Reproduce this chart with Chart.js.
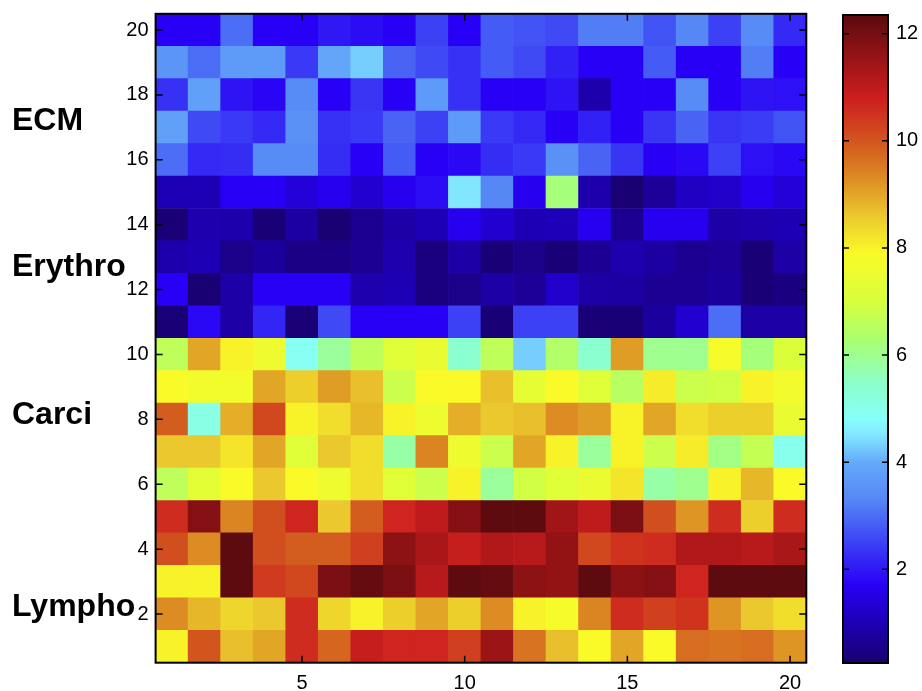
<!DOCTYPE html>
<html>
<head>
<meta charset="utf-8">
<script src="https://cdn.jsdelivr.net/npm/chart.js@4/dist/chart.umd.min.js"></script>
<style>
  html, body { margin: 0; padding: 0; background: #ffffff; }
  #wrap { position: relative; width: 922px; height: 691px; }
  #main { position: absolute; left: 0; top: 0; }
  #cbar { position: absolute; left: 800px; top: 0; }
</style>
</head>
<body>
<div id="wrap">
  <canvas id="main" width="922" height="691"></canvas>
  <canvas id="cbar" width="122" height="691"></canvas>
</div>
<script>
// ---------------- DATA ----------------
const columns = [1,2,3,4,5,6,7,8,9,10,11,12,13,14,15,16,17,18,19,20];
const rowPositions = [1,2,3,4,5,6,7,8,9,10,11,12,13,14,15,16,17,18,19,20];

// Lympho (rows 1-5)
const row1  = [8.0,10.0,8.7,9.0,10.6,9.8,10.9,10.7,10.7,10.3,11.5,9.6,8.7,7.9,9.0,7.9,9.7,9.6,9.7,9.2];
const row2  = [9.3,8.8,8.4,8.6,10.6,8.4,8.0,8.5,9.0,8.5,9.3,8.0,7.8,9.4,10.6,10.3,10.5,9.2,8.6,8.3];
const row3  = [8.0,8.0,12.3,10.4,10.2,11.9,12.2,11.9,11.1,12.3,12.2,11.7,11.6,12.3,11.7,11.8,10.7,12.3,12.3,12.3];
const row4  = [10.1,9.3,12.3,10.1,9.9,9.9,10.3,11.7,11.3,10.9,11.2,11.1,11.6,10.2,10.5,10.6,11.2,11.2,11.1,11.3];
const row5  = [10.6,11.8,9.4,10.1,10.7,8.6,9.9,10.7,11.0,11.8,12.3,12.3,11.4,11.0,11.9,10.1,9.2,10.6,8.5,10.6];
// Carci (rows 6-10)
const row6  = [6.6,7.3,7.9,8.6,7.9,7.6,8.3,7.2,6.8,8.0,5.9,6.9,7.2,7.5,8.2,5.8,6.0,8.0,8.8,7.9];
const row7  = [8.6,8.6,8.2,9.0,7.2,8.6,8.3,5.8,9.4,7.6,6.8,9.0,8.0,5.9,8.0,6.8,8.1,6.1,6.7,5.0];
const row8  = [9.9,5.1,8.9,10.2,8.0,8.3,8.8,8.0,7.6,8.9,8.6,8.7,9.3,9.1,8.0,9.0,8.3,8.5,8.5,7.5];
const row9  = [7.9,7.7,7.7,9.0,8.5,9.1,8.7,6.8,7.9,7.9,8.7,7.4,7.9,7.2,6.5,8.1,6.8,6.9,8.0,7.7];
const row10 = [6.6,9.0,8.0,7.6,4.9,5.9,6.6,7.2,7.5,5.4,6.6,4.3,6.4,5.4,9.1,6.0,6.0,7.8,6.2,7.1];
// Erythro (rows 11-15)
const row11 = [0.35,1.8,0.85,2.15,0.35,2.6,1.7,1.7,1.7,2.5,0.35,2.5,2.5,0.35,0.35,0.75,1.3,3.0,0.85,0.85];
const row12 = [1.7,0.3,0.85,1.7,1.7,1.7,0.95,1.0,0.4,0.55,0.85,0.7,1.25,0.85,0.8,0.65,0.65,0.75,0.35,0.45];
const row13 = [0.9,1.0,0.55,0.75,0.5,0.5,0.65,0.95,0.4,0.85,0.35,0.55,0.35,0.65,0.95,0.8,0.6,0.7,0.35,0.85];
const row14 = [0.35,0.95,0.9,0.35,0.8,0.3,0.6,0.85,1.0,1.65,1.3,1.0,1.05,1.65,0.6,1.65,1.65,0.85,0.95,1.0];
const row15 = [1.0,1.0,1.7,1.7,1.4,1.65,1.3,1.65,1.85,4.5,3.3,1.65,6.2,0.9,0.3,0.7,1.15,1.25,1.65,1.4];
// ECM (rows 16-20)
const row16 = [3.0,2.2,2.25,3.4,3.4,2.25,1.7,2.8,1.7,1.8,2.25,2.4,3.5,2.9,2.35,1.7,1.8,2.5,1.9,1.8];
const row17 = [3.8,2.6,2.4,2.2,3.5,2.3,2.4,2.9,2.5,3.7,2.4,2.2,1.7,2.1,1.7,2.35,2.9,2.35,2.45,2.7];
const row18 = [2.3,3.8,1.95,1.75,3.4,1.7,2.35,1.7,3.7,2.3,1.7,1.7,1.95,0.9,1.7,1.7,3.4,1.7,1.95,1.9];
const row19 = [3.6,3.0,3.7,3.7,2.4,3.9,4.3,2.9,2.6,2.3,2.8,2.6,2.1,1.7,1.7,2.8,1.7,1.7,3.2,1.7];
const row20 = [1.7,1.7,3.0,1.7,1.7,2.0,1.85,1.7,2.5,1.7,2.8,2.7,2.6,3.2,3.2,2.7,3.3,2.5,3.4,2.2];

const groupNames   = ['ECM', 'Erythro', 'Carci', 'Lympho'];
const groupCenters = [17.2, 12.7, 8.14, 2.21];

const xTickValues = [5, 10, 15, 20];
const yTickValues = [2, 4, 6, 8, 10, 12, 14, 16, 18, 20];
const colorTickValues = [2, 4, 6, 8, 10, 12];
const colorRange = [0.25, 12.35];

// ---------------- STYLE (colormap) ----------------
const cmapStops = [
  [0.25, [25, 0, 110]], [1.0, [30, 0, 180]], [1.7, [40, 0, 245]], [2.5, [60, 65, 245]],
  [3.3, [85, 135, 245]], [4.0, [100, 170, 250]], [4.5, [130, 230, 255]], [4.8, [135, 255, 250]],
  [5.5, [140, 255, 200]], [6.2, [165, 255, 120]], [7.0, [215, 255, 60]], [7.9, [250, 250, 40]],
  [8.6, [235, 200, 45]], [9.3, [220, 140, 35]], [10.0, [210, 85, 30]], [10.8, [205, 30, 30]],
  [11.5, [155, 20, 22]], [12.35, [90, 10, 15]]
];
function cmap(v) {
  if (v <= cmapStops[0][0]) return rgb(cmapStops[0][1]);
  for (let i = 1; i < cmapStops.length; i++) {
    if (v <= cmapStops[i][0]) {
      const [v0, c0] = cmapStops[i - 1], [v1, c1] = cmapStops[i];
      const t = (v - v0) / (v1 - v0);
      return rgb(c0.map((c, k) => c + (c1[k] - c) * t));
    }
  }
  return rgb(cmapStops[cmapStops.length - 1][1]);
}
function rgb(c) { return 'rgb(' + c.map(Math.round).join(',') + ')'; }

const FONT = "'Liberation Sans', Arial, Helvetica, sans-serif";

function noPad(s) { s.paddingTop = 0; s.paddingBottom = 0; s.paddingLeft = 0; s.paddingRight = 0; }

// ---------------- MAIN HEATMAP ----------------
const rows = [row1,row2,row3,row4,row5,row6,row7,row8,row9,row10,row11,row12,row13,row14,row15,row16,row17,row18,row19,row20];
const datasets = rows.map((vals, i) => ({
  data: columns.map(c => ({ x: c, y: [rowPositions[i] - 0.5, rowPositions[i] + 0.5] })),
  backgroundColor: vals.map(cmap),
  borderWidth: 0,
  barPercentage: 1,
  categoryPercentage: 1,
  grouped: false
}));

const frameTicks = {
  id: 'frameTicks',
  afterDraw(chart, args, opts) {
    const { ctx, chartArea: a } = chart;
    ctx.save();
    ctx.strokeStyle = '#000';
    ctx.lineWidth = 1.5;
    const L = opts.len || 7;
    const xs = chart.scales.x, ys = chart.scales.y;
    if (xs && xs.options.display !== false) {
      (opts.xTicks || []).forEach(v => {
        const p = xs.getPixelForValue(v);
        ctx.beginPath();
        ctx.moveTo(p, a.bottom); ctx.lineTo(p, a.bottom - L);
        ctx.moveTo(p, a.top); ctx.lineTo(p, a.top + L);
        ctx.stroke();
      });
    }
    (opts.yTicks || []).forEach(v => {
      const p = ys.getPixelForValue(v);
      ctx.beginPath();
      ctx.moveTo(a.left, p); ctx.lineTo(a.left + L, p);
      ctx.moveTo(a.right, p); ctx.lineTo(a.right - L, p);
      ctx.stroke();
    });
    ctx.lineWidth = 2;
    ctx.strokeRect(a.left, a.top, a.right - a.left, a.bottom - a.top);
    ctx.restore();
  }
};

const groupLabels = {
  id: 'groupLabels',
  afterDraw(chart) {
    const { ctx } = chart;
    const ys = chart.scales.y;
    ctx.save();
    ctx.fillStyle = '#000';
    ctx.font = 'bold 32px ' + FONT;
    ctx.textAlign = 'left';
    ctx.textBaseline = 'middle';
    groupNames.forEach((n, i) => ctx.fillText(n, 12, ys.getPixelForValue(groupCenters[i])));
    ctx.restore();
  }
};

new Chart(document.getElementById('main'), {
  type: 'bar',
  data: { datasets },
  options: {
    responsive: false,
    animation: false,
    devicePixelRatio: 1,
    layout: { padding: { left: 0, right: 115.7, top: 13.8, bottom: 0 } },
    plugins: {
      legend: { display: false },
      tooltip: { enabled: false },
      frameTicks: { xTicks: xTickValues, yTicks: yTickValues, len: 7 }
    },
    scales: {
      x: {
        type: 'linear',
        min: 0.5, max: 20.5,
        offset: false,
        grid: { display: false, drawTicks: false, offset: false },
        border: { display: false },
        afterBuildTicks: s => { s.ticks = xTickValues.map(v => ({ value: v })); },
        afterFit: s => { s.height = 28.3; noPad(s); },
        ticks: { padding: 9, color: '#000', font: { family: FONT, size: 20 }, maxRotation: 0 }
      },
      y: {
        type: 'linear',
        min: 0.5, max: 20.5,
        grid: { display: false, drawTicks: false },
        border: { display: false },
        afterBuildTicks: s => { s.ticks = yTickValues.map(v => ({ value: v })); },
        afterFit: s => { s.width = 155.6; noPad(s); },
        ticks: { padding: 7, color: '#000', font: { family: FONT, size: 20 } }
      }
    }
  },
  plugins: [frameTicks, groupLabels]
});

// ---------------- COLORBAR ----------------
new Chart(document.getElementById('cbar'), {
  type: 'bar',
  data: {
    labels: [''],
    datasets: [{
      data: [colorRange],
      borderWidth: 0,
      barPercentage: 1,
      categoryPercentage: 1,
      backgroundColor: (c) => {
        const ch = c.chart;
        const ys = ch.scales.y;
        if (!ch.chartArea || !ys) return '#888';
        const y0 = ys.getPixelForValue(colorRange[0]);
        const y1 = ys.getPixelForValue(colorRange[1]);
        const g = ch.ctx.createLinearGradient(0, y0, 0, y1);
        cmapStops.forEach(s => {
          const t = Math.min(1, Math.max(0, (s[0] - colorRange[0]) / (colorRange[1] - colorRange[0])));
          g.addColorStop(t, rgb(s[1]));
        });
        return g;
      }
    }]
  },
  options: {
    responsive: false,
    animation: false,
    devicePixelRatio: 1,
    layout: { padding: { left: 43, right: 0, top: 15, bottom: 28 } },
    plugins: {
      legend: { display: false },
      tooltip: { enabled: false },
      frameTicks: { xTicks: [], yTicks: colorTickValues, len: 6 }
    },
    scales: {
      x: { display: false },
      y: {
        position: 'right',
        min: colorRange[0], max: colorRange[1],
        grid: { display: false, drawTicks: false },
        border: { display: false },
        afterBuildTicks: s => { s.ticks = colorTickValues.map(v => ({ value: v })); },
        afterFit: s => { s.width = 34; noPad(s); },
        ticks: { padding: 8, color: '#000', font: { family: FONT, size: 20 } }
      }
    }
  },
  plugins: [frameTicks]
});
</script>
</body>
</html>
